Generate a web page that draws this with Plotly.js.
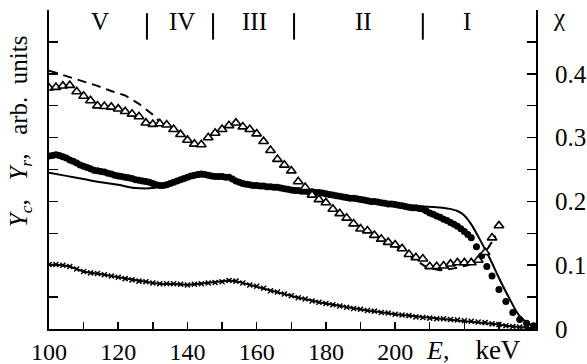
<!DOCTYPE html>
<html>
<head>
<meta charset="utf-8">
<script src="https://cdn.plot.ly/plotly-3.0.1.min.js"></script>
<style>html,body{margin:0;padding:0;background:#fff;}#chart{width:587px;height:364px;}</style>
</head>
<body>
<div id="chart"></div>
<script>
// Triangles (open) – Y_r data
var triE = [100,102,104,106,108,110,112,114,116,118,120,122,124,126,128,130,132,134,136,138,140,142,144,146,148,150,152,154,156,158,160,162,164,166,168,170,172,174,176,178,180,182,184,186,188,190,192,194,196,198,200,202,204,206,208,210,212,214,216,218,220,222,224,226,228,230];
var triY = [0.378,0.379,0.381,0.382,0.372,0.365,0.358,0.350,0.349,0.348,0.345,0.341,0.337,0.333,0.323,0.321,0.322,0.320,0.313,0.305,0.296,0.290,0.289,0.300,0.307,0.313,0.319,0.323,0.317,0.313,0.306,0.294,0.280,0.266,0.257,0.248,0.231,0.222,0.210,0.203,0.198,0.188,0.181,0.174,0.165,0.157,0.154,0.147,0.141,0.136,0.132,0.126,0.117,0.112,0.110,0.098,0.098,0.099,0.102,0.104,0.104,0.104,0.108,0.120,0.143,0.162];

// Dashed fit curve (visible segments)
var dashE = [100,103,106,110,114,118,122,126,130,132.5,null,200,203,206,209,213,217,221,224,227,229];
var dashY = [0.405,0.400,0.394,0.388,0.381,0.373,0.366,0.353,0.336,0.322,null,0.130,0.120,0.108,0.097,0.092,0.095,0.100,0.110,0.128,0.146];

// Filled circles – Y_c data
var cirE = [100,101,102,103,104,105,106,107,108,109,110,111,112,113,114,115,116,117,118,119,120,121,122,123,124,125,126,127,128,129,130,131,132,133,134,135,136,137,138,139,140,141,142,143,144,145,146,147,148,149,150,151,152,153,154,155,156,157,158,159,160,161,162,163,164,165,166,167,168,169,170,171,172,173,174,175,176,177,178,179,180,181,182,183,184,185,186,187,188,189,190,191,192,193,194,195,196,197,198,199,200,201,202,203,204,205,206,207,208,209,210,211,212,213,214,215,216,217,218,219,220,221,222,223.5,225,226.5,228,230,232,234,236,238,240];
var cirY = [0.271,0.272,0.273,0.272,0.270,0.268,0.265,0.263,0.260,0.257,0.255,0.253,0.251,0.249,0.248,0.247,0.246,0.244,0.243,0.241,0.240,0.239,0.238,0.237,0.236,0.234,0.233,0.232,0.231,0.230,0.228,0.226,0.225,0.225,0.226,0.228,0.230,0.232,0.234,0.236,0.238,0.240,0.241,0.242,0.243,0.242,0.241,0.240,0.239,0.239,0.239,0.238,0.238,0.235,0.232,0.230,0.228,0.227,0.226,0.225,0.225,0.224,0.224,0.223,0.223,0.222,0.222,0.221,0.220,0.219,0.218,0.217,0.217,0.216,0.216,0.215,0.215,0.214,0.214,0.213,0.212,0.211,0.210,0.209,0.208,0.207,0.206,0.205,0.205,0.204,0.203,0.202,0.201,0.200,0.200,0.199,0.198,0.197,0.196,0.196,0.195,0.194,0.193,0.192,0.191,0.190,0.190,0.189,0.188,0.185,0.182,0.180,0.177,0.175,0.172,0.170,0.167,0.164,0.161,0.157,0.153,0.148,0.143,0.129,0.115,0.098,0.083,0.062,0.043,0.026,0.015,0.009,0.005];

// Solid fit curve
var fitE = [100,105,110,115,120,125,130,135,140,145,150,155,160,165,170,175,180,185,190,195,200,204,208,212,215,218,220,222,225,227.5,230,233,236,239,240.5];
var fitY = [0.245,0.240,0.235,0.230,0.226,0.221,0.221,0.228,0.236,0.240,0.238,0.231,0.226,0.222,0.218,0.216,0.213,0.208,0.203,0.199,0.196,0.193,0.192,0.191,0.189,0.185,0.178,0.164,0.135,0.109,0.080,0.048,0.020,0.007,0.004];

// Crosses
var crsE = [100,102,104,106,108,110,112,114,116,118,120,122,124,126,128,130,132,134,136,138,140,142,144,146,148,150,152,154,156,158,160,162,164,166,168,170,172,174,176,178,180,182,184,186,188,190,192,194,196,198,200,202,204,206,208,210,212,214,216,218,220,222,224,226,228,230,232,234,236,238,240];
var crsY = [0.101,0.101,0.100,0.098,0.094,0.090,0.088,0.087,0.085,0.083,0.081,0.079,0.077,0.075,0.074,0.072,0.071,0.071,0.071,0.070,0.069,0.070,0.071,0.072,0.073,0.074,0.076,0.075,0.072,0.069,0.067,0.064,0.060,0.058,0.055,0.052,0.049,0.047,0.044,0.042,0.040,0.038,0.036,0.034,0.032,0.031,0.029,0.028,0.026,0.025,0.023,0.022,0.021,0.019,0.018,0.017,0.016,0.016,0.015,0.014,0.013,0.012,0.011,0.010,0.008,0.007,0.005,0.004,0.003,0.002,0.001];

// Axis ticks
var xTickVals = [100,110,120,130,140,150,160,170,180,190,200,210,220,230];
var xTickText = ['100','','120','','140','','160','','180','','200','','',''];
var yTickVals = [0,0.05,0.1,0.15,0.2,0.25,0.3,0.35,0.4,0.45,0.5];
var yTickText = ['0','','0.1','','0.2','','0.3','','0.4','',''];

// Regions
var regionBounds = [128.3,147.4,170.8,208];
var regionNames = ['V','IV','III','II','I'];
var regionCenters = [114.7,138.4,159.5,191,220.8];

var FONT = '"Liberation Serif", "Times New Roman", Times, serif';

var traces = [
  {x: dashE, y: dashY, mode: 'lines', line: {color: '#000', width: 2, dash: '9px,6px'}, connectgaps: false, hoverinfo: 'skip'},
  {x: fitE, y: fitY, mode: 'lines', line: {color: '#000', width: 2, shape: 'spline'}, hoverinfo: 'skip'},
  {x: crsE, y: crsY, mode: 'lines+markers', line: {color: '#000', width: 2},
   marker: {symbol: 'x-thin', size: 5, line: {color: '#000', width: 1.5}}},
  {x: cirE, y: cirY, mode: 'markers', marker: {symbol: 'circle', size: 7, color: '#000'}},
  {x: triE, y: triY, mode: 'markers', marker: {symbol: 'triangle-up', size: 8.5, color: '#fff', line: {color: '#000', width: 1.6}}}
];

var shapes = regionBounds.map(function(b){
  return {type: 'line', xref: 'x', yref: 'paper', x0: b, x1: b, y0: 0.907, y1: 0.99, line: {color: '#000', width: 2}};
});

var annotations = regionNames.map(function(n, i){
  return {text: n, x: regionCenters[i], xref: 'x', y: 0.963, yref: 'paper', showarrow: false,
          font: {family: FONT, size: 25, color: '#000'}, xanchor: 'center', yanchor: 'middle'};
});
annotations.push({text: '<i>Y</i><sub><i>c</i></sub>,&nbsp;&nbsp;&nbsp;<i>Y</i><sub><i>r</i></sub>,&nbsp;&nbsp;&nbsp;arb.&nbsp;&nbsp;units',
  xref: 'paper', yref: 'paper', x: -0.0595, y: 0.62, textangle: -90, showarrow: false,
  font: {family: FONT, size: 25, color: '#000'}, xanchor: 'center', yanchor: 'middle'});
annotations.push({text: '<i>E</i>,&nbsp;&nbsp;&nbsp;&nbsp;<span style="font-size:27px">keV</span>', xref: 'x', yref: 'paper', x: 222.5, y: -0.065,
  showarrow: false, font: {family: FONT, size: 26, color: '#000'}, xanchor: 'center', yanchor: 'middle'});
annotations.push({text: 'χ', xref: 'paper', yref: 'paper', x: 1.047, y: 0.975,
  showarrow: false, font: {family: FONT, size: 25, color: '#000'}, xanchor: 'center', yanchor: 'middle'});

var layout = {
  width: 587, height: 364,
  margin: {l: 49, r: 51, t: 10, b: 35, pad: 0},
  paper_bgcolor: '#fff', plot_bgcolor: '#fff',
  showlegend: false,
  font: {family: FONT, color: '#000'},
  xaxis: {range: [100, 240.7], showline: true, linewidth: 2, linecolor: '#000', mirror: false,
    ticks: 'inside', ticklen: 7, tickwidth: 1.5, tickcolor: '#000',
    tickmode: 'array', tickvals: xTickVals, ticktext: xTickText,
    showgrid: false, zeroline: false, tickfont: {family: FONT, size: 24, color: '#000'}},
  yaxis: {range: [0, 0.5], side: 'right', showline: true, linewidth: 2, linecolor: '#000', mirror: 'ticks',
    ticks: 'inside', ticklen: 9, tickwidth: 1.5, tickcolor: '#000',
    tickmode: 'array', tickvals: yTickVals, ticktext: yTickText, ticklabelstandoff: 12,
    showgrid: false, zeroline: false, tickfont: {family: FONT, size: 25, color: '#000'}},
  shapes: shapes,
  annotations: annotations
};

Plotly.newPlot('chart', traces, layout, {staticPlot: true, displayModeBar: false});
</script>
</body>
</html>
